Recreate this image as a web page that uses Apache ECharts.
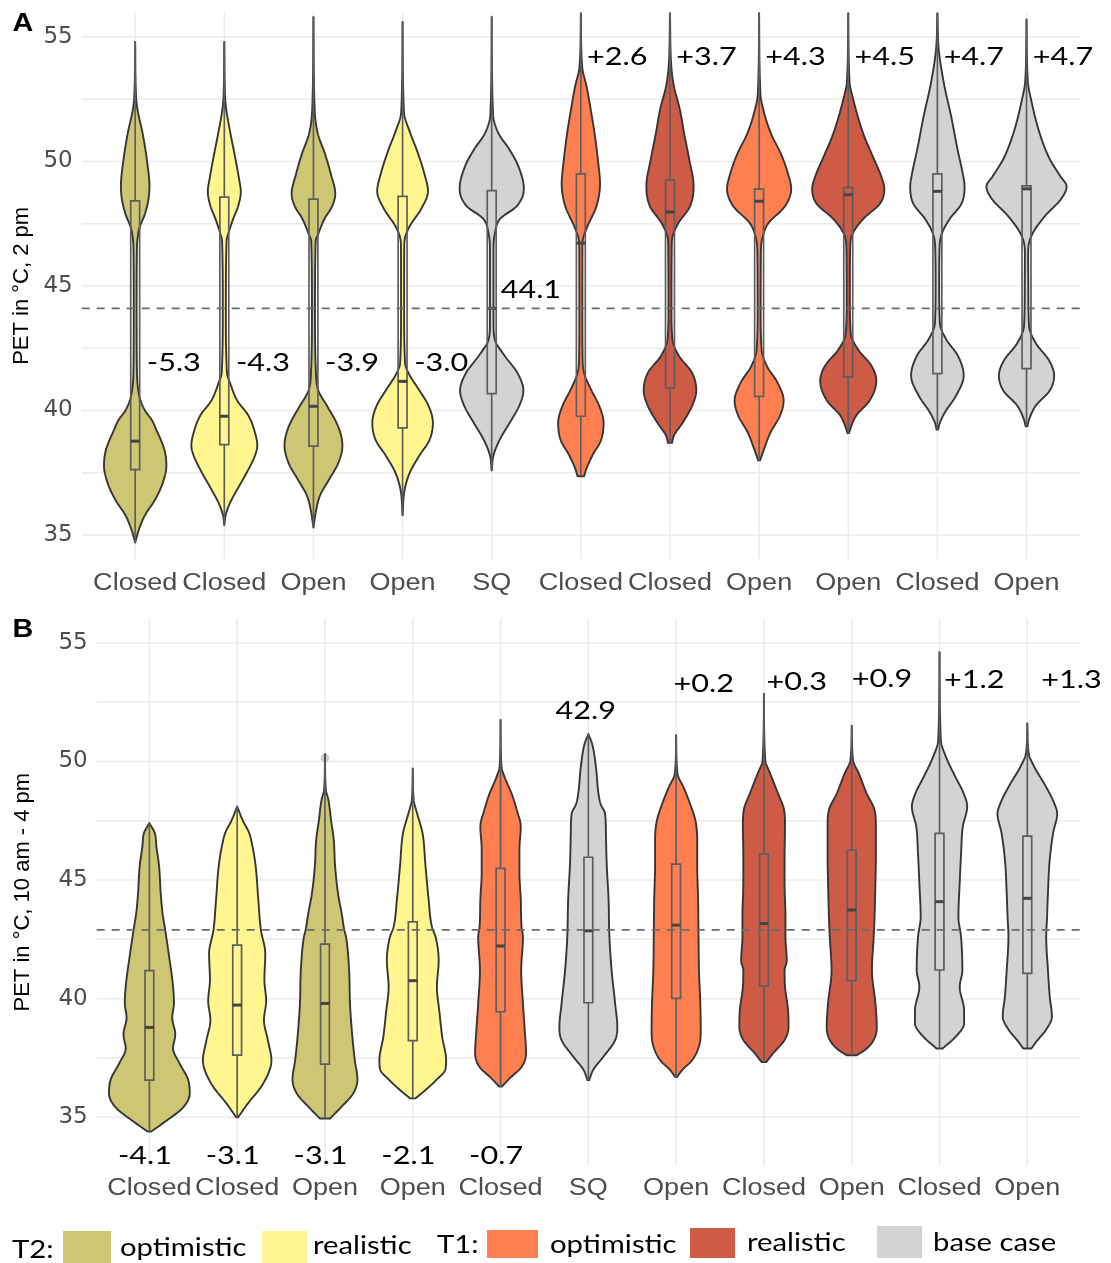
<!DOCTYPE html>
<html>
<head>
<meta charset="utf-8">
<script src="https://cdn.jsdelivr.net/npm/echarts@6/dist/echarts.min.js"></script>
<style>html,body{margin:0;padding:0;background:#fff}#c{width:1111px;height:1263px}</style>
</head>
<body>
<div id="c"></div>
<script>
// ---------------- DATA ----------------
const categoriesA = ['Closed','Closed','Open','Open','SQ','Closed','Closed','Open','Open','Closed','Open'];
const categoriesB = ['Closed','Closed','Open','Open','Closed','SQ','Open','Closed','Open','Closed','Open'];
const scenariosA = ['T2 optimistic','T2 realistic','T2 optimistic','T2 realistic','base case','T1 optimistic','T1 realistic','T1 optimistic','T1 realistic','base case','base case'];
const scenariosB = ['T2 optimistic','T2 realistic','T2 optimistic','T2 realistic','T1 optimistic','base case','T1 optimistic','T1 realistic','T1 realistic','base case','base case'];

// violin half-width profiles: [PET value, half width in 1/100 of a category step]
const violinA = [
  [[34.7,0],[35.2,4],[35.8,11],[36.4,22],[37.1,31],[37.8,35],[38.4,33],[38.8,29],[39.2,24],[39.6,19],[40.0,11],[40.4,6],[40.8,3.5],[41.5,2],[44.0,1.6],[46.6,2],[47.0,3],[47.3,4.5],[47.9,11],[48.5,15],[49.0,16],[50.1,13],[51.1,8.5],[52.1,2.5],[52.6,1],[54.8,0]],
  [[35.4,0],[35.8,1.5],[36.3,6.5],[36.8,14],[37.5,25],[38.2,34.5],[38.6,37],[39.1,34.5],[39.8,27],[40.4,14.5],[41.1,6.5],[41.5,3],[44.0,1.7],[46.8,2.5],[47.1,4.5],[47.7,10],[48.2,15.5],[48.8,18.5],[49.3,16.5],[50.1,12.5],[51.1,7],[52.0,2.5],[52.5,1],[54.8,0]],
  [[35.3,0],[36.0,3],[36.6,7.5],[37.2,17],[37.9,28],[38.6,32.5],[39.0,31],[39.5,26],[40.2,15],[40.8,5.5],[41.5,2.8],[44.0,1.7],[46.8,2.5],[47.1,5.5],[47.7,12.5],[48.2,21],[48.7,24.5],[49.5,19.5],[50.3,13],[51.1,5],[52.0,1.5],[55.8,0]],
  [[35.8,0],[36.8,2.2],[37.5,8],[38.2,19],[38.8,30],[39.5,34],[40.2,29],[40.8,19],[41.5,6.7],[41.9,2.8],[44.0,1.7],[46.5,1.8],[46.9,2.5],[47.4,8],[48.1,21],[48.8,28.5],[49.5,24.5],[50.5,15.5],[51.1,9],[52.0,1.5],[55.6,0]],
  [[37.6,0],[38.2,2],[38.8,8.6],[39.5,20],[40.2,31],[40.8,35.5],[41.5,29],[42.2,14.5],[42.85,3.5],[43.5,2],[46.5,2],[47.1,3.5],[47.7,9.5],[48.2,28],[48.9,36],[49.8,30],[50.5,19.5],[51.1,8],[51.9,1.5],[55.8,0]],
  [[37.36,3.7],[37.6,5.6],[38.2,13],[38.8,22.5],[39.5,25.5],[40.2,20.5],[40.8,12],[41.5,3.7],[42.0,2],[44.0,1.7],[46.5,1.8],[46.9,2.5],[47.4,7.5],[48.2,17.5],[49.1,21.5],[50.1,19],[51.1,15.5],[52.1,11],[53.0,6.5],[53.8,1.5],[55.95,0]],
  [[38.7,2.2],[39.0,4.5],[39.5,14],[40.2,25],[40.8,29.5],[41.5,25],[42.2,10],[42.85,2.8],[44.0,1.7],[46.6,2],[47.0,3],[47.5,9],[48.2,22.5],[49.0,26.5],[50.1,21.5],[51.1,16],[52.1,11],[53.0,4.5],[53.8,1.5],[55.95,0]],
  [[38.0,1],[38.4,5],[39.1,12.5],[39.8,23.5],[40.4,27.5],[41.1,21],[41.8,8.5],[42.45,2.8],[44.0,1.7],[46.4,2],[46.9,3.5],[47.5,10],[48.2,29],[48.9,36],[49.5,32.5],[50.3,24.5],[51.1,13.5],[52.1,4.5],[52.7,1.5],[55.95,0]],
  [[39.1,1],[39.25,2.2],[39.8,9],[40.4,24],[41.2,31.5],[41.8,26],[42.45,11],[43.1,2.8],[44.5,1.8],[46.6,2.2],[47.1,5],[47.7,17],[48.3,35.5],[48.9,40.5],[49.4,37],[50.2,27.5],[51.1,17],[52.5,5.5],[53.2,1.5],[55.95,0]],
  [[39.24,1],[39.45,2.2],[39.9,8],[40.6,21],[41.4,29.5],[42.2,23],[42.85,10],[43.5,2.8],[45.0,2],[46.6,2.5],[47.1,5],[47.7,14],[48.3,27],[49.0,30.5],[49.5,28.5],[50.5,22.5],[51.8,15.5],[53.1,7.5],[54.5,1.5],[55.95,0]],
  [[39.37,1],[39.65,3],[40.2,10.5],[40.8,26],[41.4,31],[42.0,25.5],[42.7,10.5],[43.4,2.8],[45.0,2],[46.2,1.8],[46.6,2.2],[47.1,6.7],[47.8,20.5],[48.5,39],[49.0,45],[49.4,38],[50.1,26],[51.1,15],[52.5,5],[53.2,1.5],[55.7,0]]
];
const violinB = [
  [[34.4,2],[34.9,21],[35.4,38],[36.0,46],[36.6,44],[37.3,34],[37.9,27],[38.5,29.5],[39.2,26],[39.8,28],[40.5,27],[41.9,22],[42.9,18],[43.6,15],[44.4,13],[45.6,11],[46.4,8],[47.0,6],[47.4,0]],
  [[35.0,1],[35.6,12.5],[36.3,27.5],[37.0,37],[37.4,39],[38.25,35],[39.1,30.5],[39.9,33],[40.8,31],[41.9,32],[42.9,27],[44.2,24],[45.6,21],[46.5,17],[47.0,13.5],[47.5,6.5],[48.1,0]],
  [[34.95,5.7],[35.45,19],[36.0,32],[36.6,37],[37.4,34],[38.7,30.5],[39.8,28.5],[41.2,27.5],[42.6,24],[42.9,22],[43.6,19],[44.4,15],[45.6,11.5],[46.7,10],[47.5,7],[48.4,3.8],[48.8,1],[50.3,0]],
  [[35.8,3],[36.15,14.5],[36.6,27.5],[37.0,37],[37.4,38],[38.4,33.5],[39.4,30.5],[40.5,27.5],[41.6,29.5],[42.6,26],[43.0,22],[44.2,18],[45.6,14.5],[47.0,11],[47.8,5],[48.4,1],[49.7,0]],
  [[36.3,1.5],[36.7,12],[37.1,23.5],[37.7,29],[38.7,27.5],[39.8,25.5],[41.2,23.5],[42.6,25.5],[43.0,24],[44.2,23],[45.3,21.5],[46.3,21.5],[47.25,23],[47.95,18.5],[48.65,12.5],[49.35,4.5],[49.8,1],[51.75,0]],
  [[36.57,1],[37.0,5.5],[37.55,17],[38.25,30.5],[38.8,33],[39.8,30.5],[41.2,26.5],[42.6,24],[44.2,23],[45.6,21],[47.0,20],[47.8,19],[48.2,14],[48.65,11.5],[49.8,8.5],[50.75,4.2],[51.15,0]],
  [[36.7,1],[37.0,7],[37.4,18],[38.0,26],[38.7,28],[39.8,27.5],[41.2,26],[42.6,25.5],[44.2,25],[45.6,24],[46.7,24],[47.5,22],[48.2,16],[48.9,8.5],[49.5,1.5],[51.1,0]],
  [[37.33,2.6],[37.7,10.5],[38.26,23.5],[38.8,28],[39.5,27.5],[40.5,24],[41.2,23.5],[41.6,26],[42.6,24.5],[43.45,24.5],[44.9,23.5],[46.1,23.5],[47.25,24],[47.95,23],[48.65,16],[49.5,7],[50.05,1.5],[52.85,0]],
  [[37.62,5.7],[37.85,15.5],[38.26,25],[38.8,28.5],[39.8,27],[41.2,23],[42.6,25],[43.45,26],[44.9,27],[46.1,27.5],[47.25,27.5],[47.95,26],[48.65,17],[49.5,8],[50.05,1.5],[51.5,0]],
  [[37.9,3.4],[38.4,18.5],[38.96,28],[39.5,28],[40.5,23],[41.2,26],[42.6,24.5],[43.45,21.5],[44.9,23],[46.1,24.5],[47.25,26.5],[48.1,31.5],[48.65,27.5],[49.35,18],[50.2,7.2],[50.9,1.5],[54.6,0]],
  [[37.9,4.6],[38.2,10.5],[38.7,21.5],[39.25,28],[40.1,25.5],[41.2,23.5],[42.6,21.5],[43.45,22.5],[44.45,23.5],[45.85,25.5],[47.0,29.5],[47.8,34],[48.25,30.5],[48.95,21],[49.8,7.5],[50.35,1.5],[51.6,0]]
];

// boxplot: [Q1, median, Q3]
const boxA = [[37.63,38.77,48.42],[38.63,39.77,48.57],[38.57,40.17,48.49],[39.3,41.17,48.6],[40.68,44.1,48.83],[39.77,46.72,49.5],[40.91,47.97,49.26],[40.57,48.4,48.89],[41.35,48.66,48.95],[41.48,48.8,49.5],[41.68,48.9,49.02]];
const boxB = [[36.57,38.79,41.18],[37.62,39.73,42.26],[37.24,39.8,42.3],[38.23,40.76,43.24],[39.45,42.22,45.49],[39.83,42.86,45.96],[40.01,43.1,45.67],[40.53,43.17,46.1],[40.76,43.74,46.26],[41.21,44.09,46.97],[41.07,44.23,46.85]];
const outliersB = [[3, 50.15]];

// status-quo reference values
const refA = 44.1;
const refB = 42.9;

// difference labels
const labelsA = ['-5.3','-4.3','-3.9','-3.0','44.1','+2.6','+3.7','+4.3','+4.5','+4.7','+4.7'];
const labelsB = ['-4.1','-3.1','-3.1','-2.1','-0.7','42.9','+0.2','+0.3','+0.9','+1.2','+1.3'];

const yTicks = [35, 40, 45, 50, 55];
const yGridLines = [35, 37.5, 40, 42.5, 45, 47.5, 50, 52.5, 55];

const legendGroups = ['T2:', 'T1:'];
const legendItems = ['T2 optimistic','T2 realistic','T1 optimistic','T1 realistic','base case'];
const legendNames = ['optimistic','realistic','optimistic','realistic','base case'];

// ---------------- STYLE / LAYOUT ----------------
const colorMap = {'T2 optimistic':'#CDC673','T2 realistic':'#FFF68F','T1 optimistic':'#FF7F50','T1 realistic':'#CD5B45','base case':'#D3D3D3'};
const annLayoutA = labelsA.map((_, i) => i < 4 ? {dx:0.13, v:41.9, align:'left'} : (i === 4 ? {dx:0.10, v:44.85, align:'left'} : {dx:0.07, v:54.2, align:'left'}));
const annLayoutB = [
  {dx:-0.05,v:33.38,align:'center'},{dx:-0.05,v:33.38,align:'center'},{dx:-0.05,v:33.38,align:'center'},{dx:-0.05,v:33.38,align:'center'},{dx:-0.05,v:33.38,align:'center'},
  {dx:-0.03,v:52.13,align:'center'},
  {dx:-0.03,v:53.28,align:'left'},{dx:0.03,v:53.36,align:'left'},{dx:0.0,v:53.47,align:'left'},{dx:0.05,v:53.43,align:'left'},{dx:0.16,v:53.43,align:'left'}
];
const SANS = '"Liberation Sans", Arial, sans-serif';
const CAL = 'Lato, "Open Sans", sans-serif';

function monotone(xs, ys) {
  const n = xs.length, d = [], m = new Array(n);
  for (let i = 0; i < n - 1; i++) d.push((ys[i+1] - ys[i]) / (xs[i+1] - xs[i]));
  m[0] = d[0]; m[n-1] = d[n-2];
  for (let i = 1; i < n - 1; i++) m[i] = (d[i-1] * d[i] <= 0) ? 0 : (d[i-1] + d[i]) / 2;
  for (let i = 0; i < n - 1; i++) {
    if (d[i] === 0) { m[i] = 0; m[i+1] = 0; continue; }
    const a = m[i] / d[i], b = m[i+1] / d[i], s = a*a + b*b;
    if (s > 9) { const t = 3 / Math.sqrt(s); m[i] = t*a*d[i]; m[i+1] = t*b*d[i]; }
  }
  return function (x) {
    let i = 0;
    while (i < n - 2 && x > xs[i+1]) i++;
    const h = xs[i+1] - xs[i], t = (x - xs[i]) / h, t2 = t*t, t3 = t2*t;
    return (2*t3 - 3*t2 + 1)*ys[i] + (t3 - 2*t2 + t)*h*m[i] + (-2*t3 + 3*t2)*ys[i+1] + (t3 - t2)*h*m[i+1];
  };
}

function txt(x, y, text, font, fill, align, vAlign, sx) {
  return {type:'text', x:x, y:y, scaleX: sx || 1, silent:true,
    style:{text:text, x:0, y:0, font:font, fill:fill, align:align, verticalAlign:vAlign, textAlign:align, textVerticalAlign:vAlign}};
}

function panelSeries(ax, cats, scen, profiles, boxes, ref, labels, annLayout, catGap) {
  const list = [];
  // horizontal grid lines
  list.push({type:'custom', xAxisIndex:ax, yAxisIndex:ax, z:0, silent:true,
    data: yGridLines.map(v => [1, v]),
    renderItem(params, api) {
      const cs = params.coordSys, y = api.coord([1, api.value(1)])[1];
      return {type:'line', shape:{x1:cs.x, y1:y, x2:cs.x + cs.width, y2:y}, style:{stroke:'#EBEBEB', lineWidth:1.5}};
    }});
  // vertical grid lines + category labels
  list.push({type:'custom', xAxisIndex:ax, yAxisIndex:ax, z:0, silent:true,
    data: cats.map((c, i) => [i + 1, 45]),
    renderItem(params, api) {
      const cs = params.coordSys, x = api.coord([api.value(0), 45])[0];
      return {type:'group', children:[
        {type:'line', shape:{x1:x, y1:cs.y, x2:x, y2:cs.y + cs.height}, style:{stroke:'#EBEBEB', lineWidth:1.5}},
        txt(x, cs.y + cs.height + catGap, cats[params.dataIndex], '23.5px ' + SANS, '#4D4D4D', 'center', 'middle', 1.15)
      ]};
    }});
  // violins + boxplots
  list.push({type:'custom', xAxisIndex:ax, yAxisIndex:ax, z:2, silent:true,
    data: profiles.map((p, i) => [i + 1, boxes[i][1]]),
    renderItem(params, api) {
      const i = params.dataIndex, cx = i + 1, prof = profiles[i], box = boxes[i];
      const vs = prof.map(p => p[0]), ws = prof.map(p => p[1] / 100);
      const f = monotone(vs, ws);
      const v0 = vs[0], v1 = vs[vs.length - 1], N = 300;
      const right = [], left = [];
      for (let k = 0; k <= N; k++) {
        const v = v0 + (v1 - v0) * k / N, w = Math.max(0, f(v));
        right.push(api.coord([cx + w, v]));
        left.push(api.coord([cx - w, v]));
      }
      const pts = right.concat(left.reverse());
      const pTop = api.coord([cx, v1]), pBot = api.coord([cx, v0]);
      const q3 = api.coord([cx - 0.05, box[2]]), q1 = api.coord([cx + 0.05, box[0]]);
      const med = api.coord([cx, box[1]]);
      const bc = '#5E5E5E';
      return {type:'group', children:[
        {type:'polygon', shape:{points:pts}, style:{fill:colorMap[scen[i]], stroke:'#363636', lineWidth:1.9, lineJoin:'round'}},
        {type:'line', shape:{x1:pTop[0], y1:pTop[1], x2:pTop[0], y2:q3[1]}, style:{stroke:bc, lineWidth:1.7}},
        {type:'line', shape:{x1:pBot[0], y1:pBot[1], x2:pBot[0], y2:q1[1]}, style:{stroke:bc, lineWidth:1.7}},
        {type:'rect', shape:{x:q3[0], y:q3[1], width:q1[0] - q3[0], height:q1[1] - q3[1]}, style:{fill:'none', stroke:bc, lineWidth:1.7}},
        {type:'line', shape:{x1:q3[0], y1:med[1], x2:q1[0], y2:med[1]}, style:{stroke:'#444444', lineWidth:3}}
      ]};
    }});
  // reference dashed line
  list.push({type:'custom', xAxisIndex:ax, yAxisIndex:ax, z:4, silent:true,
    data: [[1, ref]],
    renderItem(params, api) {
      const cs = params.coordSys, y = api.coord([1, api.value(1)])[1];
      return {type:'line', shape:{x1:cs.x, y1:y, x2:cs.x + cs.width, y2:y}, style:{stroke:'#6B6B6B', lineWidth:1.6, lineDash:[8, 7]}};
    }});
  // annotations
  list.push({type:'custom', xAxisIndex:ax, yAxisIndex:ax, z:5, silent:true,
    data: labels.map((l, i) => [i + 1, annLayout[i].v]),
    renderItem(params, api) {
      const i = params.dataIndex, L = annLayout[i];
      const p = api.coord([i + 1 + L.dx, L.v]);
      return txt(p[0], p[1], labels[i], '25.5px ' + CAL, '#000000', L.align, 'middle', 1.2);
    }});
  return list;
}

function yAxisDef(gi, min, max, name, gap) {
  return {gridIndex:gi, type:'value', min:min, max:max,
    splitLine:{show:false}, axisLine:{show:false}, axisTick:{show:false},
    axisLabel:{customValues:yTicks, fontFamily:'DejaVu Sans', fontSize:23, color:'#4D4D4D', margin:9,
      formatter: v => (Math.abs(v/5 - Math.round(v/5)) < 1e-6 ? String(Math.round(v)) : '')},
    name:name, nameLocation:'middle', nameGap:gap, nameRotate:90,
    nameTextStyle:{fontFamily:'Liberation Sans', fontSize:22, color:'#000000'}};
}

// legend graphic
const legendRects = [[63,1231,48,32],[262,1231,45,32],[487,1230,51,28],[690,1228,45,30],[877,1226,45,32]];
const legendTextPos = [[120,1248],[313,1246],[550,1245],[747,1243],[933,1243]];
const groupTextPos = [[12,1250],[437,1245]];
const graphics = [];
legendItems.forEach((k, i) => {
  const r = legendRects[i];
  graphics.push({type:'rect', shape:{x:r[0], y:r[1], width:r[2], height:r[3]}, style:{fill:colorMap[k]}, silent:true});
  graphics.push(txt(legendTextPos[i][0], legendTextPos[i][1], legendNames[i], '25px ' + CAL, '#000', 'left', 'middle', 1.17));
});
legendGroups.forEach((g, i) => graphics.push(txt(groupTextPos[i][0], groupTextPos[i][1], g, '25px ' + CAL, '#000', 'left', 'middle', 1.17)));
graphics.push(txt(23, 24, 'A', 'bold 25px ' + SANS, '#000', 'center', 'middle', 1.15));
graphics.push(txt(23, 630, 'B', 'bold 25px ' + SANS, '#000', 'center', 'middle', 1.15));

const chart = echarts.init(document.getElementById('c'), null, {renderer:'canvas'});
chart.setOption({
  animation:false,
  backgroundColor:'#ffffff',
  grid:[
    {left:81.7, top:12.7, width:998.3, height:546.3},
    {left:96.7, top:618.3, width:983.3, height:547.7}
  ],
  xAxis:[
    {gridIndex:0, type:'value', min:0.4, max:11.6, show:false},
    {gridIndex:1, type:'value', min:0.4, max:11.6, show:false}
  ],
  yAxis:[
    yAxisDef(0, 34.04, 55.97, 'PET in °C, 2 pm', 48),
    yAxisDef(1, 32.95, 56.03, 'PET in °C, 10 am - 4 pm', 63)
  ],
  graphic:{elements:graphics},
  series: [].concat(
    panelSeries(0, categoriesA, scenariosA, violinA, boxA, refA, labelsA, annLayoutA, 25),
    panelSeries(1, categoriesB, scenariosB, violinB, boxB, refB, labelsB, annLayoutB, 23),
    [{type:'scatter', xAxisIndex:1, yAxisIndex:1, z:3, silent:true, data:outliersB, symbolSize:9,
      itemStyle:{color:'rgba(60,60,60,0.3)'}}]
  )
});
</script>
</body>
</html>
